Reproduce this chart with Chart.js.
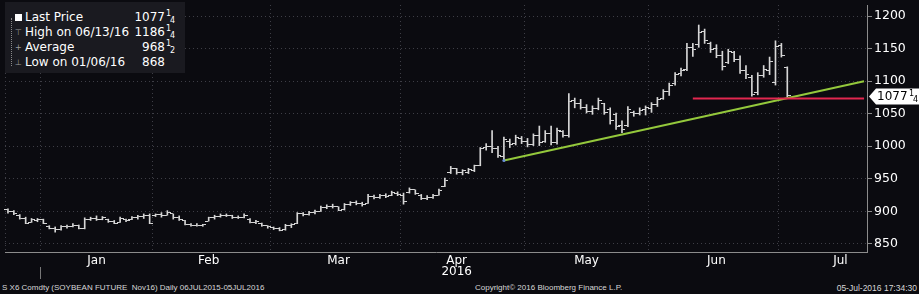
<!DOCTYPE html>
<html>
<head>
<meta charset="utf-8">
<script src="https://cdn.jsdelivr.net/npm/chart.js@4.4.1/dist/chart.umd.min.js"></script>
<style>
  html, body { margin: 0; padding: 0; background: #0b0b10; }
  body { width: 919px; height: 294px; position: relative; overflow: hidden; font-family: "DejaVu Sans", sans-serif; color: #fff; }
  #chart { position: absolute; left: 0; top: 0; }
  #legend { position: absolute; left: 5px; top: 2px; width: 180px; height: 71px; background: #1a1a20; font-size: 12px; }
  #legend .row { position: absolute; left: 0; width: 180px; height: 15px; line-height: 15px; }
  #legend .nm { position: absolute; left: 20px; white-space: pre; }
  #legend .val { position: absolute; right: 20px; }
  #legend .fr { position: absolute; left: 160px; width: 10px; height: 15px; font-size: 8px; }
  #legend .fr .a { position: absolute; left: 1px; top: -4px; }
  #legend .fr .b { position: absolute; left: 5px; top: 3px; }
  #legend .tree { position: absolute; left: 6px; top: 16px; height: 48px; border-left: 1px dotted #8a8a8a; }
  #legend .ic { position: absolute; left: 10px; color: #9a9a9a; font-size: 8px; }
  #legend .sq { position: absolute; left: 10px; top: 4px; width: 7px; height: 7px; background: #fff; }
  .foot { position: absolute; top: 283px; font: 8px "Liberation Sans", sans-serif; color: #d8d8d8; white-space: pre; }
</style>
</head>
<body>
<canvas id="chart" width="919" height="279"></canvas>

<div id="legend">
  <div class="tree"></div>
  <div class="row" style="top:8px"><span class="sq"></span><span class="nm">Last Price</span><span class="val">1077</span><span class="fr"><span class="a">1</span><span class="b">4</span></span></div>
  <div class="row" style="top:23px"><span class="ic">&#x22A4;</span><span class="nm">High on 06/13/16</span><span class="val">1186</span><span class="fr"><span class="a">1</span><span class="b">4</span></span></div>
  <div class="row" style="top:38px"><span class="ic">+</span><span class="nm">Average</span><span class="val">968</span><span class="fr"><span class="a">1</span><span class="b">2</span></span></div>
  <div class="row" style="top:53px"><span class="ic">&#x22A5;</span><span class="nm">Low on 01/06/16</span><span class="val">868</span></div>
</div>

<div class="foot" style="left:2px">S X6 Comdty (SOYBEAN FUTURE  Nov16) Daily 06JUL2015-05JUL2016</div>
<div class="foot" style="left:475px">Copyright&copy; 2016 Bloomberg Finance L.P.</div>
<div class="foot" style="right:2px; font-size:8.5px">05-Jul-2016 17:34:30</div>

<script>
// trading days shown (Dec 2015 .. Jul 2016, July tail is empty space)
const decDays = [23, 24, 28, 29, 30, 31];
const janDays = [4, 5, 6, 7, 8, 11, 12, 13, 14, 15, 19, 20, 21, 22, 25, 26, 27, 28, 29];
const febDays = [1, 2, 3, 4, 5, 8, 9, 10, 11, 12, 16, 17, 18, 19, 22, 23, 24, 25, 26, 29];
const marDays = [1, 2, 3, 4, 7, 8, 9, 10, 11, 14, 15, 16, 17, 18, 21, 22, 23, 24, 28, 29, 30, 31];
const aprDays = [1, 4, 5, 6, 7, 8, 11, 12, 13, 14, 15, 18, 19, 20, 21, 22, 25, 26, 27, 28, 29];
const mayDays = [2, 3, 4, 5, 6, 9, 10, 11, 12, 13, 16, 17, 18, 19, 20, 23, 24, 25, 26, 27, 31];
const junDays = [1, 2, 3, 6, 7, 8, 9, 10, 13, 14, 15, 16, 17, 20, 21, 22, 23, 24, 27, 28, 29, 30];
const julDays = [1, 5, 6, 7, 8, 11, 12, 13, 14, 15, 18, 19, 20, 21, 22];

// where the month names sit on the axis
const monthTickDays = ['Jan 15', 'Feb 12', 'Mar 16', 'Apr 14', 'May 16', 'Jun 16', 'Jul 18'];
const yearTickDay = 'Apr 14';
const yearText = '2016';

// daily OHLC, SX6 (cents/bu)
const opens = [903, 899, 894, 889, 883, 886, 887, 877, 874, 872, 876, 877, 878, 874, 888, 889, 887, 888, 885, 883,
  888, 887, 890, 892, 894, 893, 895, 894, 896, 890, 886, 880, 878, 878, 885, 890, 892, 894, 893, 890,
  891, 888, 883, 882, 878, 875, 873, 872, 878, 882, 896, 895, 898, 900, 906, 908, 907, 903, 910, 913,
  912, 912, 923, 921, 924, 924, 928, 925, 929, 933, 925, 920, 921, 925, 938, 960, 966, 959, 960, 963,
  971, 998, 1000, 996, 984, 1008, 1004, 1012, 1008, 1003, 1016, 1008, 1020, 1006, 1022, 1016, 1070, 1066, 1060, 1054,
  1058, 1066, 1056, 1048, 1032, 1032, 1052, 1050, 1056, 1058, 1064, 1074, 1084, 1096, 1112, 1118, 1152, 1156, 1177, 1158,
  1150, 1140, 1128, 1144, 1134, 1116, 1105, 1082, 1108, 1116, 1098, 1155, 1121];
const highs = [904, 901, 895, 891, 889, 889, 888, 878, 876, 878, 879, 881, 879, 890, 891, 893, 892, 888, 886, 891,
  888, 892, 894, 896, 896, 896, 898, 901, 896, 893, 886, 881, 881, 880, 891, 894, 896, 896, 894, 893,
  896, 889, 886, 882, 878, 876, 875, 880, 881, 898, 898, 900, 902, 908, 910, 911, 907, 912, 915, 916,
  914, 926, 925, 926, 927, 931, 930, 928, 936, 933, 926, 924, 926, 934, 951, 969, 966, 964, 966, 971,
  998, 1004, 1024, 1000, 1014, 1011, 1017, 1015, 1012, 1019, 1031, 1024, 1031, 1028, 1024, 1081, 1074, 1072, 1064, 1062,
  1074, 1066, 1059, 1051, 1039, 1061, 1054, 1059, 1062, 1067, 1075, 1087, 1097, 1113, 1120, 1158, 1158, 1186.25, 1180, 1160,
  1156, 1146, 1149, 1146, 1139, 1124, 1109, 1113, 1124, 1137, 1162, 1158, 1122];
const lows = [897, 895, 888, 881, 883, 884, 881, 873, 868, 871, 874, 876, 873, 873, 886, 886, 887, 883, 881, 883,
  884, 887, 888, 889, 881, 892, 891, 894, 888, 886, 879, 877, 877, 877, 885, 888, 891, 892, 889, 889,
  890, 882, 881, 877, 874, 872, 870, 871, 875, 881, 893, 894, 896, 900, 904, 905, 901, 902, 909, 910,
  908, 912, 919, 920, 921, 924, 924, 911, 928, 926, 918, 918, 920, 925, 938, 958, 957, 956, 958, 961,
  970, 994, 990, 983, 978, 998, 1002, 1004, 999, 1001, 1001, 1006, 1002, 1003, 1014, 1014, 1059, 1057, 1051, 1049,
  1056, 1049, 1034, 1026, 1021, 1030, 1046, 1048, 1048, 1052, 1061, 1072, 1078, 1094, 1108, 1116, 1138, 1152, 1158, 1144,
  1136, 1117, 1127, 1130, 1112, 1104, 1077, 1079, 1106, 1110, 1094, 1137, 1076];
const closes = [899, 896, 889, 882, 887, 887, 882, 874, 872, 876, 877, 878, 874, 888, 889, 887, 890, 885, 882, 889,
  886, 890, 892, 894, 882, 895, 893, 898, 890, 887, 880, 878, 878, 879, 890, 892, 894, 893, 890, 891,
  894, 883, 884, 878, 876, 873, 871, 878, 880, 896, 895, 898, 900, 906, 908, 907, 902, 910, 913, 912,
  910, 923, 921, 924, 923, 929, 926, 915, 934, 928, 920, 922, 924, 932, 948, 966, 959, 962, 964, 970,
  996, 1000, 996, 986, 1010, 1003, 1013, 1008, 1002, 1016, 1006, 1020, 1005, 1024, 1016, 1068, 1066, 1060, 1054, 1058,
  1070, 1052, 1040, 1030, 1025, 1056, 1050, 1055, 1060, 1064, 1072, 1084, 1094, 1110, 1117, 1152, 1148, 1174, 1162, 1148,
  1140, 1122, 1145, 1134, 1116, 1110, 1080, 1108, 1118, 1130, 1154, 1140, 1077.25];

// trend line and support line
const trendFrom = 'Apr 26', trendFromValue = 978, trendToValue = 1100;
const supportFrom = 'Jun 10', supportValue = 1073.5;

const barColor = '#d6d6d6';
const gridColor = '#3e3e46';
const axisColor = '#8c8c8c';

const months = [['Dec', decDays], ['Jan', janDays], ['Feb', febDays], ['Mar', marDays],
  ['Apr', aprDays], ['May', mayDays], ['Jun', junDays], ['Jul', julDays]];
const labels = [];
const monthStart = [];
months.forEach(function (m) {
  m[1].forEach(function (d, k) {
    labels.push(m[0] + ' ' + d);
    monthStart.push(k === 0);
  });
});
const lastLabel = labels[labels.length - 1];

function tickImage(left) {
  const c = document.createElement('canvas');
  c.width = 7; c.height = 1;
  const g = c.getContext('2d');
  g.fillStyle = barColor;
  g.fillRect(left ? 0 : 4, 0, 3, 1);
  return c;
}

const lastPriceTag = {
  id: 'lastPriceTag',
  afterDraw(chart) {
    const ctx = chart.ctx;
    const y = Math.round(chart.scales.y.getPixelForValue(closes[closes.length - 1])) + 0.5;
    const x0 = chart.chartArea.right + 2;
    ctx.save();
    ctx.fillStyle = '#ffffff';
    ctx.beginPath();
    ctx.moveTo(x0, y);
    ctx.lineTo(x0 + 7, y - 8);
    ctx.lineTo(919, y - 8);
    ctx.lineTo(919, y + 8);
    ctx.lineTo(x0 + 7, y + 8);
    ctx.closePath();
    ctx.fill();
    ctx.fillStyle = '#000';
    ctx.font = '12px "DejaVu Sans"';
    ctx.textBaseline = 'middle';
    ctx.fillText('1077', x0 + 8, y);
    ctx.font = '8px "DejaVu Sans"';
    ctx.fillText('1', x0 + 40, y - 3);
    ctx.fillText('4', x0 + 44, y + 3);
    // year divider under the axis
    const xs = chart.scales.x;
    const xd = Math.round((xs.getPixelForValue(5) + xs.getPixelForValue(6)) / 2) + 0.5;
    ctx.strokeStyle = '#777';
    ctx.lineWidth = 1;
    ctx.beginPath();
    ctx.moveTo(xd, 267);
    ctx.lineTo(xd, 279);
    ctx.stroke();
    ctx.restore();
  }
};

const ctx = document.getElementById('chart').getContext('2d');
new Chart(ctx, {
  type: 'bar',
  data: {
    labels: labels,
    datasets: [
      {
        type: 'bar',
        data: highs.map(function (h, i) { return [lows[i], h]; }),
        backgroundColor: barColor,
        barThickness: 1,
        grouped: false,
        order: 5
      },
      {
        type: 'line',
        data: opens,
        showLine: false,
        pointStyle: tickImage(true),
        order: 4
      },
      {
        type: 'line',
        data: closes,
        showLine: false,
        pointStyle: tickImage(false),
        order: 4
      },
      {
        type: 'line',
        data: [{ x: trendFrom, y: trendFromValue }, { x: lastLabel, y: trendToValue }],
        borderColor: '#94c83c',
        borderWidth: 2,
        pointRadius: [1.5, 0],
        pointBackgroundColor: '#6a8fd8',
        pointBorderWidth: 0,
        order: 2
      },
      {
        type: 'line',
        data: [{ x: supportFrom, y: supportValue }, { x: lastLabel, y: supportValue }],
        borderColor: '#e2274f',
        borderWidth: 2,
        pointRadius: 0,
        order: 1
      }
    ]
  },
  options: {
    responsive: false,
    animation: false,
    devicePixelRatio: 1,
    layout: { padding: { left: -2, top: 0, right: 0, bottom: 0 } },
    plugins: { legend: { display: false }, tooltip: { enabled: false } },
    scales: {
      x: {
        offset: true,
        grid: {
          offset: true,
          drawTicks: false,
          color: function (c) { return monthStart[c.index] ? gridColor : 'transparent'; },
          lineWidth: 1
        },
        border: { color: axisColor, dash: [1, 3] },
        ticks: {
          autoSkip: false,
          maxRotation: 0,
          minRotation: 0,
          padding: 3,
          color: '#ffffff',
          font: { family: 'DejaVu Sans', size: 12, lineHeight: '11px' },
          callback: function (v, i) {
            const l = labels[i];
            if (monthTickDays.indexOf(l) < 0) return '';
            const name = l.split(' ')[0];
            return l === yearTickDay ? [name, yearText] : name;
          }
        },
        afterFit: function (s) { s.height = 27; s.paddingLeft = 0; s.paddingRight = 0; }
      },
      y: {
        position: 'right',
        min: 837.5,
        max: 1217,
        grid: {
          color: function (c) { return c.tick && c.tick.value % 50 === 0 ? gridColor : 'transparent'; },
          tickColor: axisColor,
          tickLength: 5
        },
        border: { color: axisColor, dash: [1, 3] },
        ticks: {
          stepSize: 25,
          includeBounds: false,
          padding: 2,
          color: '#ffffff',
          font: { family: 'DejaVu Sans', size: 12.5 },
          callback: function (v) { return v % 50 === 0 ? v : ''; }
        },
        afterFit: function (s) { s.width = 52; s.paddingTop = 0; s.paddingBottom = 0; }
      }
    }
  },
  plugins: [lastPriceTag]
});
</script>
</body>
</html>
